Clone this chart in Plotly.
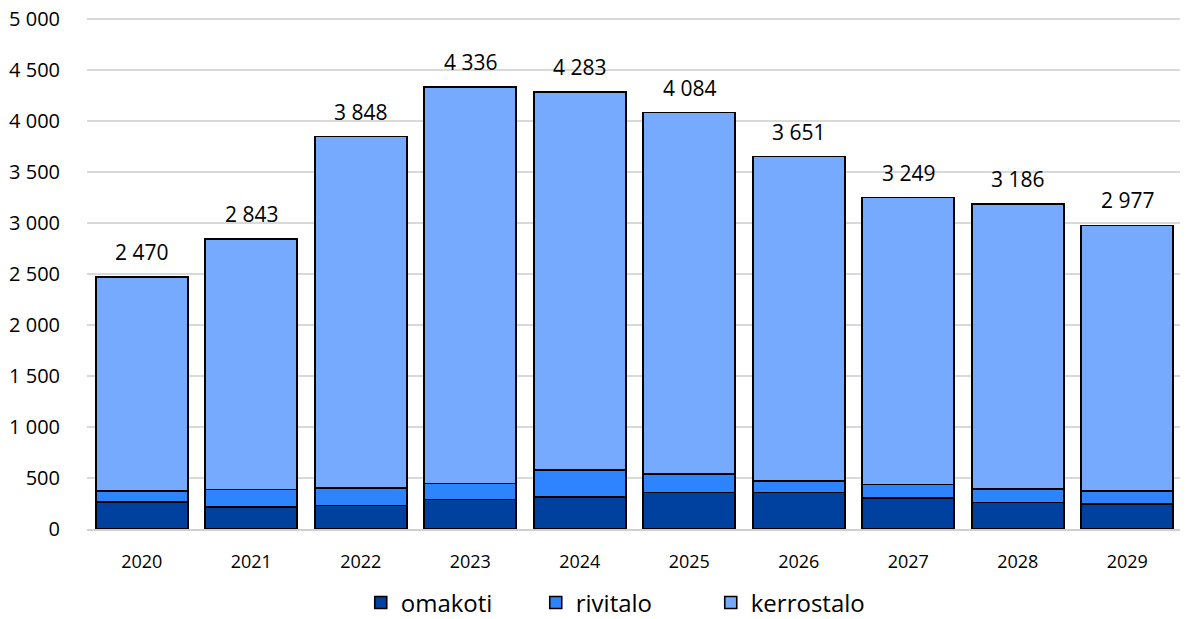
import plotly.graph_objects as go

years = ["2020", "2021", "2022", "2023", "2024", "2025", "2026", "2027", "2028", "2029"]
omakoti = [266, 214, 231, 289, 315, 358, 358, 305, 260, 247]
rivitalo = [107, 173, 172, 159, 263, 181, 113, 131, 130, 123]
totals = [2470, 2843, 3848, 4336, 4283, 4084, 3651, 3249, 3186, 2977]
kerrostalo = [t - o - r for t, o, r in zip(totals, omakoti, rivitalo)]
y_ticks = list(range(0, 5001, 500))


def fmt(v):
    return f"{v:,}".replace(",", " ")


colors = {"omakoti": "#0041A0", "rivitalo": "#2E83FF", "kerrostalo": "#75AAFF"}

fig = go.Figure()
for name, vals in [("omakoti", omakoti), ("rivitalo", rivitalo), ("kerrostalo", kerrostalo)]:
    fig.add_trace(go.Bar(
        x=years, y=vals, name=name,
        marker=dict(color=colors[name], line=dict(color="black", width=1.6)),
    ))

for i, t in enumerate(totals):
    fig.add_annotation(x=i, y=t, text=fmt(t), showarrow=False, yanchor="bottom",
                       yshift=9, font=dict(size=21, color="#000"))

fig.update_layout(
    barmode="stack",
    bargap=0.16,
    width=1180, height=611,
    margin=dict(l=79, r=6, t=7, b=90, autoexpand=False),
    paper_bgcolor="white", plot_bgcolor="white",
    font=dict(family="Open Sans, Liberation Sans, sans-serif", size=18, color="#000"),
    legend=dict(orientation="h", x=0.25, xanchor="left", y=-0.1, yanchor="top",
                font=dict(size=24), traceorder="normal", entrywidth=130),
    xaxis=dict(type="category", range=[-0.5, 9.5], showline=True, linecolor="#d0d0d0",
               linewidth=1.5, ticks="", tickfont=dict(size=18), automargin=False,
               ticklabelstandoff=16),
    yaxis=dict(range=[0, 5040], tickmode="array", tickvals=y_ticks,
               ticktext=[fmt(v) for v in y_ticks], ticklabelstandoff=26,
               ticklabeloverflow="allow",
               gridcolor="#d9d9d9", gridwidth=1.5, zeroline=False,
               tickfont=dict(size=20), automargin=False),
)

fig.write_html("out.html")
